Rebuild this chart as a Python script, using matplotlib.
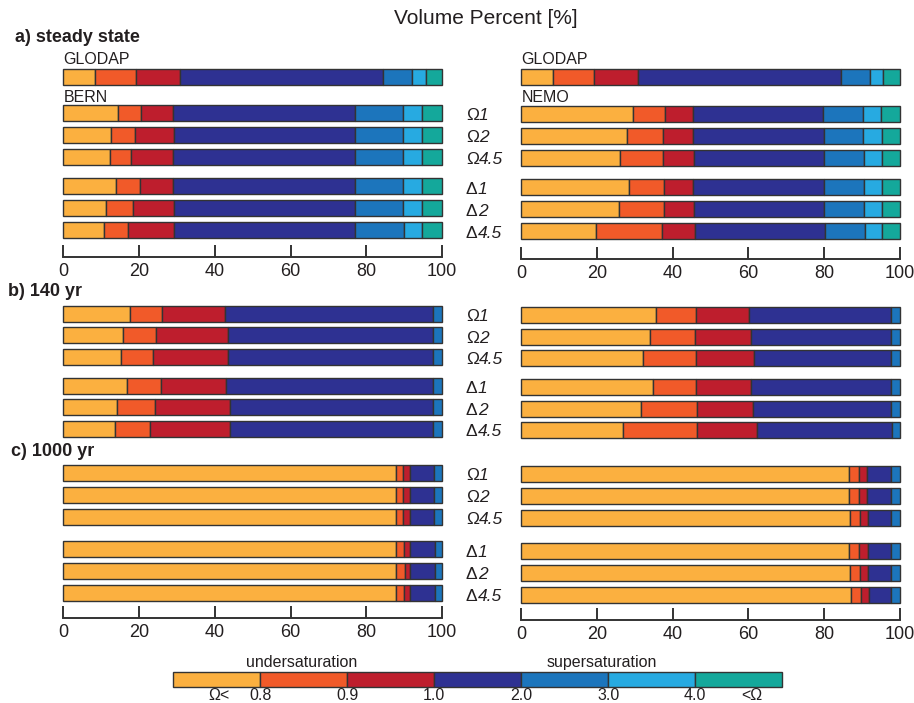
import numpy as np
import matplotlib
matplotlib.use("Agg")
import matplotlib.pyplot as plt

plt.rcParams['font.family'] = ['Liberation Sans', 'DejaVu Sans']

W, H = 914, 703
TXT = '#231f20'

# ---- data: cumulative class boundaries (volume percent) ----
classes = ['<0.8', '0.8-0.9', '0.9-1.0', '1.0-2.0', '2.0-3.0', '3.0-4.0', '>4.0']
colors = ['#fbb040', '#f15a29', '#be1e2d', '#2e3192', '#1c75bc', '#27aae1', '#14a89b']
run_labels = ['1', '2', '4.5', '1', '2', '4.5']
run_symbols = ['Ω', 'Ω', 'Ω', 'Δ', 'Δ', 'Δ']

glodap = [8.3, 19.3, 30.9, 84.5, 92.2, 95.7]

bern_a = [[14.5, 20.6, 29.0, 76.9, 89.8, 94.6],
          [12.7, 18.9, 29.1, 77.1, 89.8, 94.6],
          [12.3, 17.9, 29.0, 77.1, 89.8, 94.6],
          [13.9, 20.2, 29.0, 76.9, 89.8, 94.6],
          [11.4, 18.4, 29.3, 77.1, 89.8, 94.6],
          [10.8, 17.2, 29.2, 77.1, 89.9, 94.7]]
nemo_a = [[29.5, 38.0, 45.4, 79.8, 90.4, 95.0],
          [27.9, 37.5, 45.4, 79.9, 90.4, 95.2],
          [26.2, 37.4, 45.6, 80.0, 90.5, 95.2],
          [28.5, 37.6, 45.5, 79.9, 90.5, 95.2],
          [25.7, 37.7, 45.6, 80.0, 90.5, 95.2],
          [19.8, 37.3, 45.9, 80.3, 90.7, 95.2]]

bern_b = [[17.6, 26.1, 42.8, 97.5],
          [15.7, 24.6, 43.4, 97.5],
          [15.3, 23.7, 43.4, 97.6],
          [16.9, 25.8, 43.0, 97.6],
          [14.3, 24.1, 44.1, 97.6],
          [13.7, 22.8, 44.1, 97.7]]
nemo_b = [[35.6, 46.3, 60.3, 97.8],
          [34.1, 46.0, 60.8, 97.8],
          [32.1, 46.3, 61.5, 97.8],
          [34.7, 46.2, 60.6, 97.8],
          [31.6, 46.4, 61.3, 97.8],
          [26.8, 46.4, 62.3, 98.0]]

bern_c = [[87.8, 89.8, 91.6, 98.0],
          [87.8, 89.8, 91.6, 98.0],
          [87.8, 89.8, 91.6, 98.0],
          [87.9, 90.0, 91.6, 98.1],
          [87.9, 90.1, 91.6, 98.1],
          [87.8, 90.0, 91.6, 98.1]]
nemo_c = [[86.5, 89.3, 91.4, 97.8],
          [86.5, 89.3, 91.4, 97.8],
          [86.8, 89.6, 91.6, 97.8],
          [86.7, 89.3, 91.6, 97.8],
          [86.8, 89.6, 91.7, 97.8],
          [87.0, 89.9, 91.9, 97.8]]

xticks = [0, 20, 40, 60, 80, 100]
legend_ticks = ['0.8', '0.9', '1.0', '2.0', '3.0', '4.0']

fig = plt.figure(figsize=(W / 100, H / 100), dpi=100)


def px_axes(x0, y0, x1, y1):
    ax = fig.add_axes([x0 / W, 1 - y1 / H, (x1 - x0) / W, (y1 - y0) / H])
    ax.set_xlim(0, 100)
    ax.set_ylim(y1, y0)
    ax.patch.set_alpha(0)
    for s in ax.spines.values():
        s.set_visible(False)
    ax.set_yticks([])
    ax.set_xticks([])
    return ax


def draw_bar(ax, y, bounds):
    b = list(bounds) + [100.0]
    prev = 0.0
    for k, v in enumerate(b):
        w = v - prev
        if w > 0:
            ax.barh(y, w, left=prev, height=16, color=colors[k],
                    edgecolor='#333333', linewidth=1.0, clip_on=False)
        prev = v


def rows(top, pitch, gap):
    return [top + i * pitch + (gap if i >= 3 else 0) for i in range(6)]


def axis_style(ax):
    ax.spines['bottom'].set_visible(True)
    ax.spines['bottom'].set_color('#333333')
    ax.spines['bottom'].set_linewidth(1.4)
    ax.set_xticks(xticks)
    ax.set_xticklabels([str(t) for t in xticks])
    ax.tick_params(axis='x', direction='in', length=9, width=1.4,
                   colors='#333333', labelcolor=TXT, labelsize=13, pad=4)


XL = (63.3, 442.0)
XR = (521.3, 899.7)
DR = 1.5  # right-column row offset

# panel layouts: (y0, y1 of axes, row top, pitch, gap)
panels = [
    dict(y0=45, y1_l=257, y1_r=259, top=112.5, pitch=22.0, gap=7.3,
         L=bern_a, R=nemo_a, axis=True),
    dict(y0=295, y1_l=445, y1_r=445, top=313.5, pitch=21.5, gap=7.5,
         L=bern_b, R=nemo_b, axis=False),
    dict(y0=455, y1_l=618, y1_r=620, top=472.5, pitch=22.0, gap=10.5,
         L=bern_c, R=nemo_c, axis=True),
]

for pi, p in enumerate(panels):
    axl = px_axes(XL[0], p['y0'], XL[1], p['y1_l'])
    axr = px_axes(XR[0], p['y0'], XR[1], p['y1_r'])
    ry = rows(p['top'], p['pitch'], p['gap'])
    for i in range(6):
        draw_bar(axl, ry[i], p['L'][i])
        draw_bar(axr, ry[i] + DR, p['R'][i])
        # run labels between columns
        yb = ry[i] + DR + 6.2
        t1 = fig.text(466 / W, 1 - yb / H, run_symbols[i], fontsize=12.5,
                      color=TXT, va='baseline', ha='left')
        plt.annotate(run_labels[i], xy=(1, 0), xycoords=t1, fontsize=12.5,
                     fontstyle='italic', color=TXT, va='bottom', ha='left')
    if pi == 0:
        draw_bar(axl, 77, glodap)
        draw_bar(axr, 77, glodap)
        axl.text(0, 59, 'GLODAP', fontsize=11.5, color=TXT, va='center', ha='left')
        axr.text(0, 59, 'GLODAP', fontsize=11.5, color=TXT, va='center', ha='left')
        axl.text(0, 97, 'BERN', fontsize=11.5, color=TXT, va='center', ha='left')
        axr.text(0, 97, 'NEMO', fontsize=11.5, color=TXT, va='center', ha='left')
    if p['axis']:
        axis_style(axl)
        axis_style(axr)

# titles
fig.text(486 / W, 1 - 19 / H, 'Volume Percent [%]', fontsize=15, color=TXT,
         ha='center', va='center')
fig.text(15 / W, 1 - 38 / H, 'a) steady state', fontsize=13, fontweight='bold',
         color=TXT, ha='left', va='center')
fig.text(8 / W, 1 - 292 / H, 'b) 140 yr', fontsize=13, fontweight='bold',
         color=TXT, ha='left', va='center')
fig.text(11 / W, 1 - 451 / H, 'c) 1000 yr', fontsize=13, fontweight='bold',
         color=TXT, ha='left', va='center')

# legend colour bar
lx0, lx1, ly0, ly1 = 173.3, 782.3, 671.7, 687.3
lax = fig.add_axes([lx0 / W, 1 - ly1 / H, (lx1 - lx0) / W, (ly1 - ly0) / H])
for k, c in enumerate(colors):
    lax.barh(0, 1, left=k, height=1, color=c, edgecolor='#333333', linewidth=1.0,
             clip_on=False)
lax.set_xlim(0, len(colors))
lax.set_ylim(-0.5, 0.5)
for s in lax.spines.values():
    s.set_visible(False)
lax.set_yticks([])
lax.set_xticks([0.52] + list(range(1, 7)) + [6.65])
lax.set_xticklabels(['Ω<'] + legend_ticks + ['<Ω'])
lax.tick_params(axis='x', length=0, pad=0.8, labelsize=11.5, labelcolor=TXT)
lax.text(1.47, 0.8, 'undersaturation', fontsize=11.5, color=TXT, ha='center',
         va='baseline', transform=lax.transData)
lax.text(4.92, 0.8, 'supersaturation', fontsize=11.5, color=TXT, ha='center',
         va='baseline', transform=lax.transData)

fig.savefig('out.png', dpi=100)
